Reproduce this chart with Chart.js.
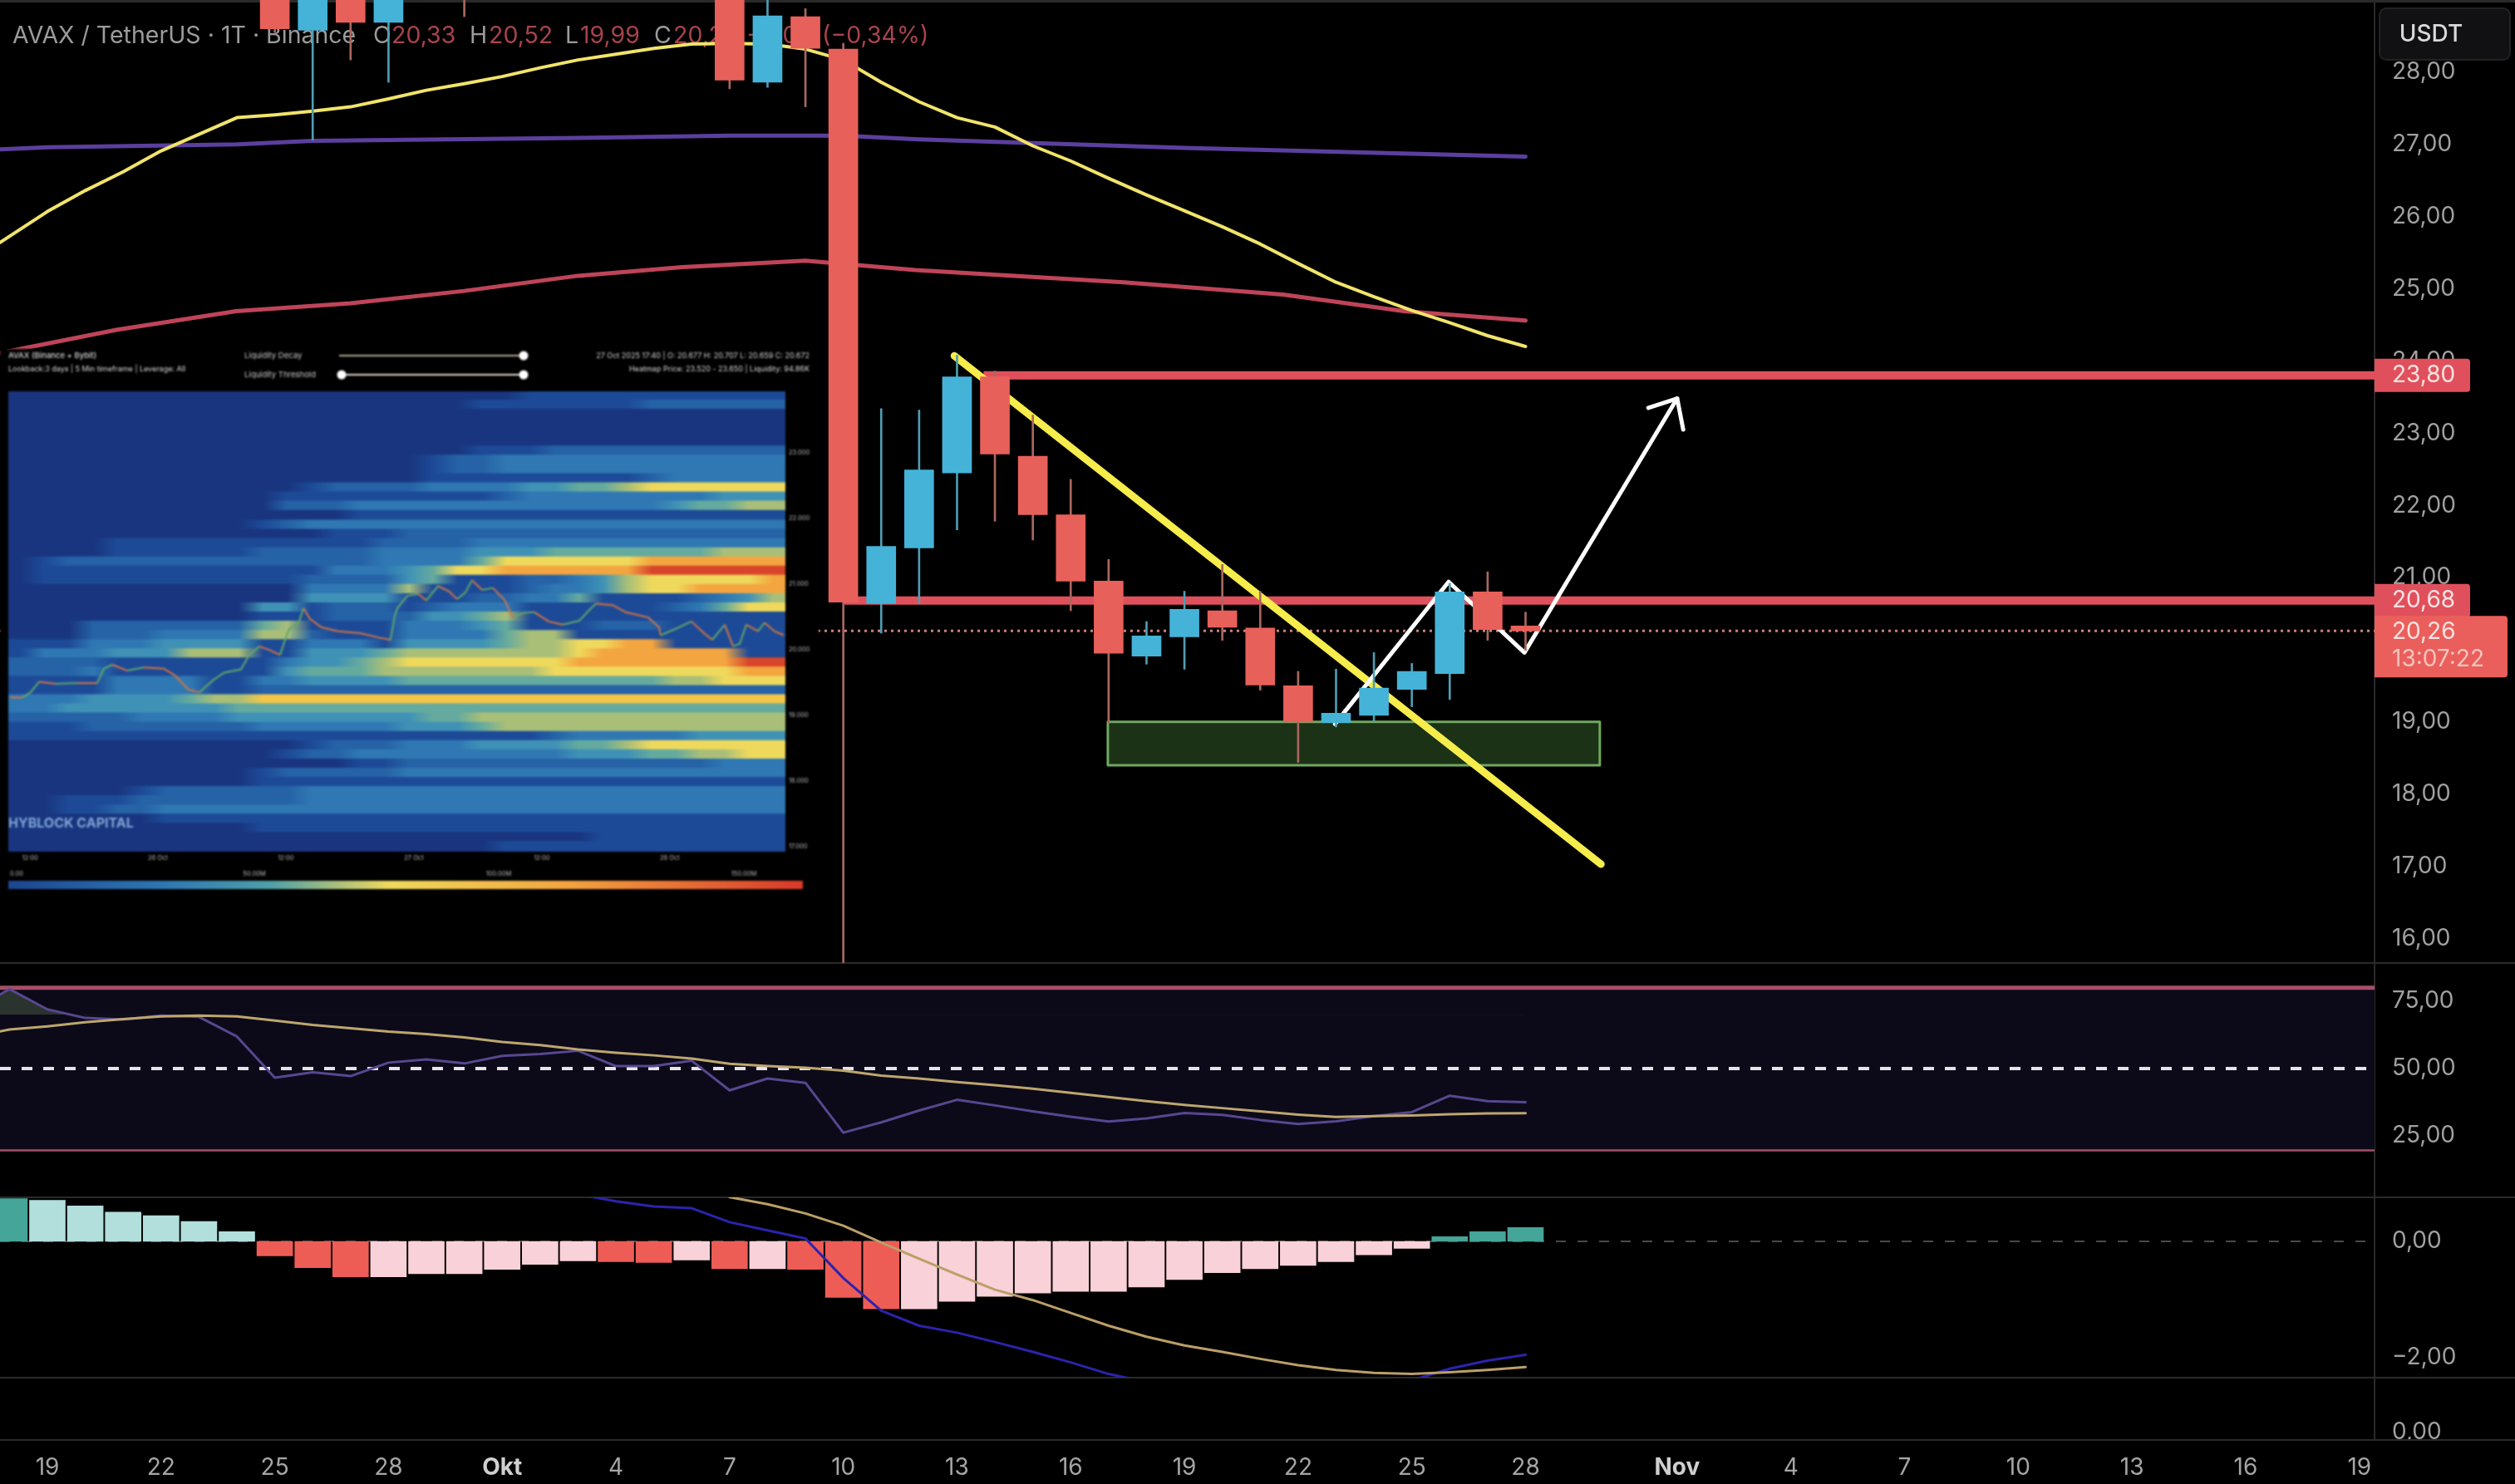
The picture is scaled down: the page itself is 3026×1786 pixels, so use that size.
<!DOCTYPE html>
<html lang="de">
<head>
<meta charset="utf-8">
<title>AVAX / TetherUS</title>
<script src="https://cdn.jsdelivr.net/npm/chart.js@4"></script>
<style>
  html, body { margin: 0; background: #000; overflow: hidden; }
  #wrap { position: relative; width: 3026px; height: 1786px; }
  #mainChart { position: absolute; left: 0; top: 0; filter: blur(0.6px); }
  #heatChart { position: absolute; left: 0; top: 420px; background: #000; filter: blur(1px); }
</style>
</head>
<body>
<div id="wrap">
  <canvas id="mainChart" width="3026" height="1786"></canvas>
  <canvas id="heatChart" width="985" height="680"></canvas>
</div>
<script>
/* ---- Zeitachse (Tage seit 19. Sep) ---- */
const tickDays   = [0, 3, 6, 9, 12, 15, 18, 21, 24, 27, 30, 33, 36, 39, 43, 46, 49, 52, 55, 58, 61];
const tickLabels = ['19', '22', '25', '28', 'Okt', '4', '7', '10', '13', '16', '19', '22', '25', '28', 'Nov', '4', '7', '10', '13', '16', '19'];

/* ---- Preisachse ---- */
const priceTicks = [28, 27, 26, 25, 24, 23, 22, 21, 20, 19, 18, 17, 16];
const rsiTicks   = [75, 50, 25];
const macdTicks  = [0, -2];

/* ---- Kerzen ---- */
const candleDays  = [6, 7, 8, 9, 11, 18, 19, 20, 21, 22, 23, 24, 25, 26, 27, 28, 29, 30, 31, 32, 33, 34, 35, 36, 37, 38, 39];
const candleOpen  = [29.4, 28.58, 29.3, 28.69, 29.6, 29.3, 27.86, 28.77, 28.32, 20.64, 21.41, 22.45, 23.78, 22.68, 21.87, 20.95, 19.91, 20.18, 20.54, 20.30, 19.50, 18.99, 19.09, 19.45, 19.67, 20.80, 20.33];
const candleClose = [28.60, 29.4, 28.69, 29.3, 29.2, 27.89, 28.78, 28.33, 20.66, 21.43, 22.49, 23.78, 22.71, 21.87, 20.95, 19.95, 20.19, 20.56, 20.31, 19.51, 19.00, 19.12, 19.47, 19.70, 20.80, 20.28, 20.26];
const candleHigh  = [29.6, 29.6, 29.4, 29.4, 29.7, 29.4, 29.2, 28.88, 28.4, 23.34, 23.32, 24.08, 23.86, 23.25, 22.36, 21.25, 20.39, 20.81, 21.18, 20.81, 19.70, 19.73, 19.96, 19.81, 20.92, 21.08, 20.52];
const candleLow   = [28.55, 27.06, 28.17, 27.86, 28.77, 27.77, 27.79, 27.52, 15.2, 20.23, 20.64, 21.66, 21.78, 21.52, 20.54, 18.99, 19.80, 19.73, 20.13, 19.44, 18.44, 18.93, 19.01, 19.21, 19.31, 20.13, 19.99];

/* ---- Gleitende Durchschnitte ---- */
const yellowDays = [-1.25, 0, 1, 2, 3, 4, 5, 6, 7, 8, 9, 10, 11, 12, 13, 14, 15, 16, 17, 18, 19, 20, 21, 22, 23, 24, 25, 26, 27, 28, 29, 30, 31, 32, 33, 34, 35, 36, 37, 38, 39];
const yellowMa   = [25.64, 26.07, 26.36, 26.62, 26.91, 27.14, 27.37, 27.41, 27.46, 27.52, 27.63, 27.75, 27.84, 27.94, 28.06, 28.17, 28.25, 28.33, 28.39, 28.40, 28.39, 28.32, 28.17, 27.86, 27.59, 27.37, 27.24, 26.98, 26.77, 26.53, 26.30, 26.08, 25.86, 25.62, 25.35, 25.09, 24.89, 24.70, 24.53, 24.35, 24.20];
const purpleDays = [-1.25, 0, 5, 7, 14, 18, 21, 23, 30, 39];
const purpleMa   = [26.93, 26.96, 27.00, 27.05, 27.09, 27.12, 27.12, 27.07, 26.95, 26.83];
const redMaDays  = [-1.25, 1.82, 4.98, 8, 11, 14, 16.75, 20, 22.9, 28.4, 32.6, 35.8, 39];
const redMa      = [24.11, 24.43, 24.69, 24.80, 24.97, 25.18, 25.30, 25.39, 25.26, 25.09, 24.92, 24.69, 24.56];

/* ---- Zeichnungen ---- */
const levelPrices = [23.80, 20.68];
const levelStarts = [24.7, 21];
const lastPrice   = 20.26;
const trendDays   = [23.93, 40.99];
const trendPrices = [24.07, 17.03];
const pathDays    = [33.97, 36.97, 38.97, 43.0];
const pathPrices  = [18.97, 20.94, 19.96, 23.48];
const arrowDays   = [42.24, 43.0, 43.16];
const arrowPrices = [23.35, 23.48, 23.05];
const boxDays     = [27.98, 40.96];
const boxPrices   = [19.0, 18.4];

/* ---- RSI ---- */
const rsiDays = [-1.25, -1, 0, 1, 2, 3, 4, 5, 6, 7, 8, 9, 10, 11, 12, 13, 14, 15, 16, 17, 18, 19, 20, 21, 22, 23, 24, 25, 26, 27, 28, 29, 30, 31, 32, 33, 34, 35, 36, 37, 38, 39];
const rsiLine = [77.5, 79.5, 72.0, 68.8, 68.2, 69.7, 69.2, 61.9, 46.6, 48.6, 47.2, 52.2, 53.4, 51.9, 54.7, 55.4, 56.6, 50.9, 50.9, 52.9, 41.9, 46.3, 44.7, 26.2, 30.0, 34.4, 38.4, 36.3, 34.1, 32.1, 30.3, 31.5, 33.5, 32.8, 30.9, 29.4, 30.4, 32.3, 33.8, 39.9, 37.9, 37.5];
const rsiMa   = [63.8, 64.5, 65.7, 67.2, 68.4, 69.4, 69.7, 69.4, 67.8, 66.2, 65.0, 63.7, 62.8, 61.6, 59.9, 58.7, 57.1, 55.9, 54.9, 53.7, 51.8, 50.9, 50.3, 49.2, 47.4, 46.3, 45.0, 43.8, 42.5, 41.0, 39.4, 37.9, 36.5, 35.3, 34.1, 32.9, 32.0, 32.3, 32.6, 33.0, 33.3, 33.4];
const rsiBands = [80, 20];
const rsiMid   = 50;

/* ---- MACD ---- */
const histDays = [-1, 0, 1, 2, 3, 4, 5, 6, 7, 8, 9, 10, 11, 12, 13, 14, 15, 16, 17, 18, 19, 20, 21, 22, 23, 24, 25, 26, 27, 28, 29, 30, 31, 32, 33, 34, 35, 36, 37, 38, 39];
const histVals = [0.736, 0.707, 0.609, 0.504, 0.441, 0.342, 0.168, -0.249, -0.452, -0.609, -0.609, -0.557, -0.557, -0.481, -0.394, -0.336, -0.348, -0.365, -0.319, -0.470, -0.470, -0.481, -0.962, -1.159, -1.159, -1.032, -0.945, -0.887, -0.858, -0.858, -0.783, -0.655, -0.539, -0.470, -0.412, -0.348, -0.232, -0.122, 0.081, 0.168, 0.238];
const macdDays = [14, 15, 16, 17, 18, 19, 20, 21, 22, 23, 24, 25, 26, 27, 28, 29, 30, 31, 32, 33, 34, 35, 36, 37, 38, 39];
const macdLine = [0.81, 0.69, 0.60, 0.57, 0.33, 0.19, 0.05, -0.63, -1.19, -1.45, -1.57, -1.73, -1.90, -2.08, -2.28, -2.42, -2.54, -2.61, -2.66, -2.68, -2.63, -2.54, -2.39, -2.19, -2.05, -1.95];
const signalDays = [18, 19, 20, 21, 22, 23, 24, 25, 26, 27, 28, 29, 30, 31, 32, 33, 34, 35, 36, 37, 38, 39];
const signalLine = [0.76, 0.64, 0.48, 0.27, -0.02, -0.30, -0.57, -0.83, -1.01, -1.23, -1.45, -1.64, -1.79, -1.90, -2.02, -2.13, -2.21, -2.26, -2.28, -2.25, -2.21, -2.16];

/* ---- Heatmap: eine Zeile je Preisband, ein Zeichen je Zeitspalte (Stufe der Farbskala) ---- */
const heatPrices = [23.87, 23.73, 23.59, 23.45, 23.31, 23.17, 23.03, 22.89, 22.75, 22.61, 22.47, 22.33, 22.19, 22.05, 21.90, 21.76, 21.62, 21.48, 21.34, 21.20, 21.06, 20.92, 20.78, 20.64, 20.50, 20.36, 20.22, 20.08, 19.94, 19.80, 19.66, 19.52, 19.38, 19.24, 19.10, 18.96, 18.82, 18.68, 18.54, 18.40, 18.26, 18.12, 17.98, 17.84, 17.70, 17.56, 17.42, 17.28, 17.14, 17.00];
const heatRows = [
  '00000000000000000000011111111111',
  '00000000000000000001111111222222',
  '00000000000000000000000000000000',
  '00000000000000000000000000000000',
  '00000000000000000000000000000000',
  '00000000000000000000000000000000',
  '00000000000000000001112222222222',
  '00000000000000000122333333333333',
  '00000000000000000122333333333333',
  '00000000000000000111111111233333',
  '00000000000012222333344556777777',
  '00000000000111111111233333333444',
  '00000000000222333333333333345566',
  '00000000000000111111111111111111',
  '00000000001233333333333333333333',
  '00000000000001112222222222222222',
  '00001111111111122223333333333333',
  '00001111112222233334445555555666',
  '01222222222222233335777777888888',
  '01111111111113334577888888999999',
  '01111111111122224511122346777778',
  '00000000000033336111123346778888',
  '00000000000044441112233511112346',
  '00000000004412221233311111123577',
  '00000000001112222445611111111111',
  '00022222225611113334511122211111',
  '00022233336621113333566111111111',
  '11133344441133314444566778811111',
  '13334446661144456666666788888811',
  '22221111111344567777777888888899',
  '22231111111455566666667777777788',
  '11113333113344445555555555566777',
  '11113333112222222222222222222222',
  '3334444566aaaaaaaaaaaaaaaaaaaaaa',
  '33444444455555555555555555555555',
  '22222333344444444556666666666666',
  '11122222223333334445666666666666',
  '11111111111111111111112333334444',
  '00000000000012223334444556777777',
  '00000000000122333333333444556677',
  '00000000000000112222222222222333',
  '00000000001222223333333333333333',
  '00000000001111111111111111111111',
  '00000122222233333333333333333333',
  '00111222222233333333333333333333',
  '00112233333333333333333333333333',
  '00000011111111111111111111111111',
  '00000000001111111111111111111111',
  '00000000000000000000000011111111',
  '00000000000000000000111111111111'
];
const heatPalette = ['#19357f', '#1d4a97', '#2562a6', '#2f78b3', '#3f92b6', '#65aa9e', '#a9bf78', '#efd95c', '#f3a540', '#d8452b', '#f4c648'];

/* ---- Kurs im Heatmap-Bild (Stunden seit 26 Oct 00:00) ---- */
const heatHours = [-13.87, -12.70, -11.93, -11.15, -9.59, -7.56, -5.69, -5.07, -4.29, -2.88, -1.33, 0.55, 1.56, 2.88, 3.90, 5.22, 6.24, 7.79, 8.57, 9.51, 10.37, 11.46, 12.24, 13.25, 13.64, 14.26, 15.35, 16.91, 18.94, 20.81, 21.82, 22.21, 22.45, 23.38, 24.40, 25.18, 26.27, 27.28, 28.06, 28.84, 29.46, 30.40, 31.41, 32.50, 33.28, 34.29, 35.31, 36.63, 37.96, 39.52, 40.37, 41.08, 42.63, 43.88, 45.99, 47.00, 47.15, 48.87, 50.04, 51.21, 51.99, 53.16, 53.94, 54.56, 55.18, 56.27, 56.90, 57.83, 58.69];
const heatClose = [19.27, 19.27, 19.35, 19.51, 19.48, 19.49, 19.49, 19.71, 19.77, 19.68, 19.73, 19.71, 19.61, 19.39, 19.35, 19.54, 19.65, 19.70, 19.92, 20.05, 20.00, 19.92, 20.30, 20.43, 20.63, 20.47, 20.34, 20.28, 20.25, 20.18, 20.15, 20.51, 20.63, 20.82, 20.85, 20.75, 20.97, 20.89, 20.77, 20.87, 21.06, 20.91, 20.94, 20.76, 20.49, 20.56, 20.57, 20.43, 20.38, 20.44, 20.59, 20.70, 20.68, 20.57, 20.49, 20.34, 20.22, 20.34, 20.43, 20.25, 20.15, 20.38, 20.05, 20.09, 20.38, 20.28, 20.41, 20.28, 20.22];
const heatTickHours  = [-12, 0, 12, 24, 36, 48];
const heatTickLabels = ['12:00', '26 Oct', '12:00', '27 Oct', '12:00', '28 Oct'];
const heatPriceTicks = [23, 22, 21, 20, 19, 18, 17];

/* ---- Farben ---- */
const RED = '#e8605a', BLUE = '#45b3d8', RED_WICK = '#a9675f', BLUE_WICK = '#4f9db2';
const FONT = 'Inter, "Noto Sans", sans-serif';

const fmt = v => v.toFixed(2).replace('.', ',').replace('-', '\u2212');
const pts = (xs, ys) => xs.map((x, i) => ({ x, y: ys[i] }));

function lineDs(xs, ys, yAxisID, color, width, order, extra) {
  return Object.assign({
    type: 'line', data: pts(xs, ys), yAxisID, xAxisID: 'x',
    borderColor: color, borderWidth: width, pointRadius: 0, order,
    tension: 0, fill: false, borderCapStyle: 'round', borderJoinStyle: 'round'
  }, extra || {});
}

/* ---- Rahmen, Legende und Preisschilder ---- */
const chromePlugin = {
  id: 'chrome',
  beforeDatasetsDraw(chart) {
    const { ctx, scales } = chart;
    ctx.save();
    ctx.fillStyle = '#2a2a2a';
    ctx.fillRect(0, 0, 3026, 3);
    ['yPrice', 'yRsi', 'yMacd', 'yEmpty'].forEach(id => {
      ctx.fillRect(0, scales[id].bottom - 1, 3026, 2);
    });
    ctx.fillRect(scales.x.right - 1, 0, 2, scales.yEmpty.bottom);

    // Legende liegt unter den Kerzen
    ctx.textBaseline = 'middle';
    ctx.font = '28.5px ' + FONT;
    ctx.fillStyle = '#9b9b9b';
    ctx.fillText('AVAX / TetherUS \u00b7 1T \u00b7 Binance', 15, 43);
    const ohlc = [['O', '20,33', 449, 471], ['H', '20,52', 565, 588], ['L', '19,99', 680, 698], ['C', '20,26', 787, 810]];
    ohlc.forEach(([k, v, kx, vx]) => {
      ctx.fillStyle = '#9b9b9b';
      ctx.fillText(k, kx, 43);
      ctx.fillStyle = '#a8434c';
      ctx.fillText(v, vx, 43);
    });
    ctx.fillStyle = '#a8434c';
    ctx.fillText('\u22120,07', 898, 43);
    ctx.fillText('(\u22120,34%)', 989, 43);
    ctx.restore();
  },
  afterDraw(chart) {
    const { ctx, scales } = chart;
    const axisX = scales.x.right;
    ctx.save();

    // abgeschnittene Achsenbeschriftung der untersten Leiste
    ctx.fillStyle = '#000';
    ctx.fillRect(axisX + 1, scales.yEmpty.bottom, 169, 20);
    ctx.fillStyle = '#2a2a2a';
    ctx.fillRect(axisX, scales.yEmpty.bottom - 1, 170, 2);

    // USDT-Knopf
    ctx.fillStyle = '#111113';
    ctx.strokeStyle = '#222224';
    ctx.lineWidth = 2;
    ctx.beginPath();
    ctx.roundRect(2863, 10, 157, 62, 8);
    ctx.fill();
    ctx.stroke();
    ctx.fillStyle = '#d8d8d8';
    ctx.font = '500 28px ' + FONT;
    ctx.textAlign = 'center';
    ctx.textBaseline = 'middle';
    ctx.fillText('USDT', 2925, 42);

    // Preisschilder
    ctx.textAlign = 'left';
    ctx.font = '28px ' + FONT;
    levelPrices.forEach(p => {
      const y = scales.yPrice.getPixelForValue(p);
      ctx.fillStyle = '#e0505c';
      ctx.beginPath();
      ctx.roundRect(axisX, y - 20, 115, 40, [0, 4, 4, 0]);
      ctx.fill();
      ctx.fillStyle = '#fbe3e3';
      ctx.fillText(fmt(p), 2878, y);
    });
    const ly = scales.yPrice.getPixelForValue(lastPrice);
    ctx.fillStyle = '#ea5f5b';
    ctx.beginPath();
    ctx.roundRect(axisX, ly - 18, 160, 74, [0, 4, 4, 0]);
    ctx.fill();
    ctx.fillStyle = '#fbe3e3';
    ctx.fillText(fmt(lastPrice), 2878, ly + 1);
    ctx.fillStyle = '#f6c4bf';
    ctx.fillText('13:07:22', 2878, ly + 34);
    ctx.restore();
  }
};

/* ---- Hauptchart ---- */
const barDs = {
  wicks: {
    type: 'bar', grouped: false, yAxisID: 'yPrice', xAxisID: 'x', order: 2, barThickness: 2,
    data: candleDays.map((d, i) => ({ x: d, y: [candleLow[i], candleHigh[i]] })),
    backgroundColor: candleDays.map((d, i) => candleClose[i] >= candleOpen[i] ? BLUE_WICK : RED_WICK)
  },
  bodies: {
    type: 'bar', grouped: false, yAxisID: 'yPrice', xAxisID: 'x', order: 1, barThickness: 35,
    data: candleDays.map((d, i) => ({ x: d, y: [candleOpen[i], candleClose[i]] })),
    backgroundColor: candleDays.map((d, i) => candleClose[i] >= candleOpen[i] ? BLUE : RED)
  },
  hist: {
    type: 'bar', grouped: false, yAxisID: 'yMacd', xAxisID: 'x', order: 22, barThickness: 43,
    data: pts(histDays, histVals),
    backgroundColor: histVals.map((v, i) => {
      const prev = i ? histVals[i - 1] : 1;
      if (v >= 0) return (i === 0 || v > prev) ? '#45a598' : '#b2dfdb';
      return v < prev ? '#ee5c56' : '#f9d1d8';
    })
  }
};

new Chart(document.getElementById('mainChart'), {
  type: 'bar',
  plugins: [chromePlugin],
  data: {
    datasets: [
      barDs.bodies,
      barDs.wicks,
      // Pfeil und Trendlinie
      lineDs(arrowDays, arrowPrices, 'yPrice', '#ffffff', 5, 3),
      lineDs(pathDays, pathPrices, 'yPrice', '#ffffff', 5, 3),
      lineDs(trendDays, trendPrices, 'yPrice', '#f6ec4c', 9, 4),
      // Widerstaende
      lineDs([levelStarts[0], 61.4], [levelPrices[0], levelPrices[0]], 'yPrice', '#e0505c', 10, 5, { borderCapStyle: 'butt' }),
      lineDs([levelStarts[1], 61.4], [levelPrices[1], levelPrices[1]], 'yPrice', '#e0505c', 10, 5, { borderCapStyle: 'butt' }),
      lineDs([-1.25, 61.4], [lastPrice, lastPrice], 'yPrice', '#c9807c', 3, 6, { borderDash: [3, 5], borderCapStyle: 'butt' }),
      // Demand-Zone
      lineDs(boxDays, [boxPrices[0], boxPrices[0]], 'yPrice', 'rgba(0,0,0,0)', 0, 12, {
        fill: { target: { value: boxPrices[1] }, below: '#1b3216', above: '#1b3216' }
      }),
      lineDs([boxDays[0], boxDays[1], boxDays[1], boxDays[0], boxDays[0]],
             [boxPrices[0], boxPrices[0], boxPrices[1], boxPrices[1], boxPrices[0]], 'yPrice', '#6fa860', 3, 11),
      // Gleitende Durchschnitte
      lineDs(yellowDays, yellowMa, 'yPrice', '#f1e46a', 4, 8),
      lineDs(purpleDays, purpleMa, 'yPrice', '#5b3f9e', 5, 9),
      lineDs(redMaDays, redMa, 'yPrice', '#bf4459', 5, 9),
      // RSI
      lineDs(rsiDays, rsiMa, 'yRsi', '#bda66e', 3, 13),
      lineDs(rsiDays, rsiLine, 'yRsi', '#57478f', 3, 14, {
        fill: { target: { value: 70 }, above: '#2a332e', below: 'rgba(0,0,0,0)' }
      }),
      lineDs([-1.25, 61.4], [rsiMid, rsiMid], 'yRsi', '#e6e2e8', 4, 15, { borderDash: [13, 13], borderCapStyle: 'butt' }),
      lineDs([-1.25, 61.4], [rsiBands[0], rsiBands[0]], 'yRsi', '#a44f68', 5, 16, {
        fill: { target: { value: rsiBands[1] }, above: '#0c0a19', below: '#0c0a19' }
      }),
      lineDs([-1.25, 61.4], [rsiBands[1], rsiBands[1]], 'yRsi', '#a44f68', 5, 16),
      // MACD
      lineDs(signalDays, signalLine, 'yMacd', '#bb9f68', 3, 20),
      lineDs(macdDays, macdLine, 'yMacd', '#2c23ad', 3, 21),
      barDs.hist,
      lineDs([-1.25, 61.4], [0, 0], 'yMacd', '#4a4a4a', 2, 23, { borderDash: [12, 14], borderCapStyle: 'butt' })
    ]
  },
  options: {
    responsive: false,
    animation: false,
    devicePixelRatio: 1,
    events: [],
    layout: { padding: 0 },
    plugins: { legend: { display: false }, tooltip: { enabled: false } },
    scales: {
      x: {
        type: 'linear', position: 'bottom', min: -1.25, max: 61.4, offset: false,
        grid: { display: false, drawTicks: false, offset: false }, border: { display: false },
        afterFit: s => { s.height = 53; s.paddingLeft = s.paddingRight = 0; },
        afterBuildTicks: s => { s.ticks = tickDays.map(value => ({ value })); },
        ticks: {
          autoSkip: false, maxRotation: 0, padding: 17,
          color: c => (c.index === 4 || c.index === 14) ? '#cfcfcf' : '#a5a5a5',
          font: c => ({ family: FONT, size: 28, weight: (c.index === 4 || c.index === 14) ? '700' : '400' }),
          callback: (v, i) => tickLabels[i]
        }
      },
      yPrice: yAxis(15.66, 29.0, 1159, priceTicks, 1),
      yRsi:   yAxis(2.16, 89.2, 282, rsiTicks, 2),
      yMacd:  yAxis(-2.343, 0.757, 217, macdTicks, 3),
      yEmpty: yAxis(-0.6, 4.4, 75, [0], 4)
    }
  }
});

function yAxis(min, max, stackWeight, list, weight) {
  return {
    type: 'linear', position: 'right', stack: 'panes', stackWeight, weight, min, max,
    grid: { display: false, drawTicks: false }, border: { display: false },
    // keine Randpolster, damit die Leisten genau an den Kanten sitzen
    afterFit: s => { s.width = 169; s.paddingTop = s.paddingBottom = 0; },
    afterBuildTicks: s => { s.ticks = list.map(value => ({ value })); },
    ticks: { color: '#a0a0a0', padding: 21, autoSkip: false, font: { family: FONT, size: 28 }, callback: v => fmt(v) }
  };
}

/* ---- Heatmap-Bild ---- */
const gradients = {};
function rowGradient(c, row) {
  const area = c.chart.chartArea;
  if (!area) return heatPalette[0];
  if (!gradients[row]) {
    const g = c.chart.ctx.createLinearGradient(area.left, 0, area.right, 0);
    const chars = heatRows[row];
    for (let j = 0; j < chars.length; j++) {
      g.addColorStop((j + 0.5) / chars.length, heatPalette[parseInt(chars[j], 36)]);
    }
    gradients[row] = g;
  }
  return gradients[row];
}

const heatTextPlugin = {
  id: 'heatText',
  afterDraw(chart) {
    const { ctx } = chart;
    const top = 420;
    const text = (t, x, y, size, color, align, weight) => {
      ctx.font = (weight || '400') + ' ' + size + 'px ' + FONT;
      ctx.fillStyle = color;
      ctx.textAlign = align || 'left';
      ctx.textBaseline = 'middle';
      ctx.fillText(t, x, y - top);
    };
    ctx.save();
    text('AVAX (Binance + Bybit)', 10, 428, 9.5, '#d8d8d8', 'left', '500');
    text('Lookback:3 days | 5 Min timeframe | Leverage: All', 10, 444, 9, '#d8d8d8');
    text('Liquidity Decay', 294, 428, 9.5, '#c8c8c8');
    text('Liquidity Threshold', 294, 451, 9.5, '#c8c8c8');
    text('27 Oct 2025 17:40 | O: 20.677 H: 20.707 L: 20.659 C: 20.672', 974, 428, 9, '#d8d8d8', 'right');
    text('Heatmap Price: 23.520 - 23.650 | Liquidity: 94.86K', 974, 444, 9, '#d8d8d8', 'right');

    // Schieberegler
    ctx.fillStyle = '#b9ab93';
    ctx.fillRect(408, 427 - top, 222, 2);
    ctx.fillStyle = '#e6ddd2';
    ctx.fillRect(411, 450 - top, 219, 2);
    ctx.fillStyle = '#ffffff';
    [[630, 428], [411, 451], [630, 451]].forEach(([x, y]) => {
      ctx.beginPath();
      ctx.arc(x, y - top, 5.5, 0, Math.PI * 2);
      ctx.fill();
    });

    text('HYBLOCK CAPITAL', 10, 991, 16, '#7fa4d4', 'left', '700');

    // Farbskala
    const bar = ctx.createLinearGradient(10, 0, 966, 0);
    bar.addColorStop(0, '#1d4590');
    bar.addColorStop(0.2, '#2f78b3');
    bar.addColorStop(0.33, '#4fa0a8');
    bar.addColorStop(0.48, '#efd95c');
    bar.addColorStop(0.7, '#f3a540');
    bar.addColorStop(1, '#d8392b');
    ctx.fillStyle = bar;
    ctx.fillRect(10, 1060 - top, 956, 10);
    text('0.00', 20, 1052, 7.5, '#b8b8b8', 'center');
    text('50.00M', 306, 1052, 7.5, '#b8b8b8', 'center');
    text('100.00M', 600, 1052, 7.5, '#b8b8b8', 'center');
    text('150.00M', 895, 1052, 7.5, '#b8b8b8', 'center');
    ctx.restore();
  }
};

new Chart(document.getElementById('heatChart'), {
  type: 'bar',
  plugins: [heatTextPlugin],
  data: {
    datasets: [
      {
        type: 'line', xAxisID: 'hx', yAxisID: 'hy', order: 1,
        data: pts(heatHours, heatClose), pointRadius: 0, borderWidth: 2, tension: 0,
        borderColor: '#d8743f',
        segment: { borderColor: c => c.p1.parsed.y > c.p0.parsed.y ? '#62a86a' : '#d8743f' }
      },
      {
        type: 'bar', indexAxis: 'y', grouped: false, xAxisID: 'hx', yAxisID: 'hy', order: 2, barThickness: 12,
        data: heatPrices.map(y => ({ x: [-14.03, 58.85], y })),
        backgroundColor: c => rowGradient(c, c.dataIndex)
      }
    ]
  },
  options: {
    responsive: false,
    animation: false,
    devicePixelRatio: 1,
    events: [],
    layout: { padding: { left: 10, top: 51, right: 10, bottom: 55 } },
    plugins: { legend: { display: false }, tooltip: { enabled: false } },
    scales: {
      hx: {
        type: 'linear', axis: 'x', position: 'bottom', min: -14.03, max: 58.85, offset: false,
        grid: { display: false, drawTicks: false, offset: false }, border: { display: false },
        afterFit: s => { s.height = 20; s.paddingLeft = s.paddingRight = 0; },
        afterBuildTicks: s => { s.ticks = heatTickHours.map(value => ({ value })); },
        ticks: { autoSkip: false, maxRotation: 0, padding: 3, color: '#b8b8b8', font: { family: FONT, size: 7.5 }, callback: (v, i) => heatTickLabels[i] }
      },
      hy: {
        type: 'linear', axis: 'y', position: 'right', min: 16.92, max: 23.937, offset: false,
        grid: { display: false, drawTicks: false, offset: false }, border: { display: false },
        afterFit: s => { s.width = 30; s.paddingTop = s.paddingBottom = 0; },
        afterBuildTicks: s => { s.ticks = heatPriceTicks.map(value => ({ value })); },
        ticks: { autoSkip: false, padding: 4, color: '#b8b8b8', font: { family: FONT, size: 7.5 }, callback: v => v.toFixed(3) }
      }
    }
  }
});
</script>
</body>
</html>
